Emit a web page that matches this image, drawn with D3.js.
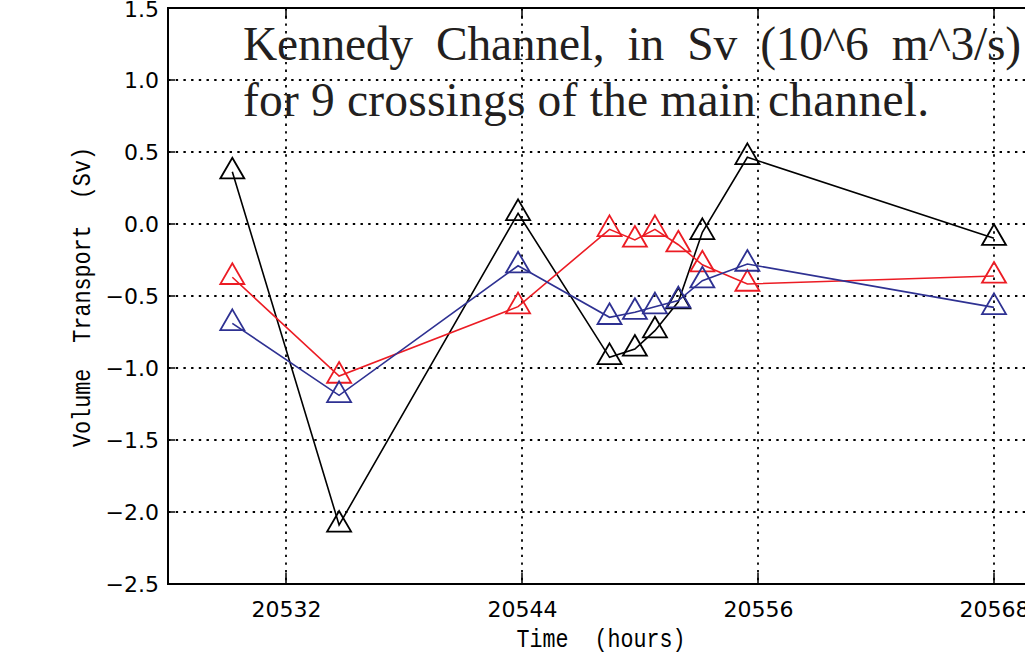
<!DOCTYPE html>
<html>
<head>
<meta charset="utf-8">
<script src="https://cdn.jsdelivr.net/npm/d3@7"></script>
<style>
  html, body { margin: 0; padding: 0; background: #fff; overflow: hidden; }
  svg { display: block; }
</style>
</head>
<body>
<svg id="chart" width="1025" height="660"></svg>
<script>
// ---- data ----
const times = [20529.27, 20534.7, 20543.8, 20548.45, 20549.74, 20550.76, 20551.95, 20553.17, 20555.46, 20568.0];
const blackSeries = [0.363, -2.09, 0.074, -0.926, -0.868, -0.741, -0.54, -0.058, 0.463, -0.099];
const redSeries   = [-0.37, -1.056, -0.574, -0.037, -0.111, -0.037, -0.144, -0.283, -0.417, -0.361];
const blueSeries  = [-0.69, -1.19, -0.29, -0.648, -0.613, -0.574, -0.532, -0.394, -0.278, -0.579];
const xTicks = [20532, 20544, 20556, 20568];
const yTicks = [-2.5, -2.0, -1.5, -1.0, -0.5, 0.0, 0.5, 1.0, 1.5];
const xDomain = [20526, 20574];
const yDomain = [-2.5, 1.5];
const titleLines = ["Kennedy  Channel,  in  Sv  (10^6  m^3/s)", "for 9 crossings of the main channel."];
const xLabel = "Time  (hours)";
const yLabel = "Volume  Transport  (Sv)";

const seriesList = [
  { values: blackSeries, color: "#000000" },
  { values: redSeries,   color: "#ec1c24" },
  { values: blueSeries,  color: "#2e3192" }
];

(function () {
// ---- layout ----
const pL = 168, pT = 8, pB = 584, pR = 1112;
const svg = d3.select("#chart");
const x = d3.scaleLinear().domain(xDomain).range([pL, pR]);
const y = d3.scaleLinear().domain(yDomain).range([pB, pT]);

// grid (dotted)
const grid = svg.append("g");
grid.selectAll("line.hg").data(yTicks.filter(v => v > yDomain[0] && v < yDomain[1])).join("line")
  .attr("x1", pL).attr("x2", pR)
  .attr("y1", d => y(d)).attr("y2", d => y(d))
  .attr("stroke", "#000").attr("stroke-width", 1.8).attr("stroke-dasharray", "2.4,5.3");
grid.selectAll("line.vg").data(xTicks).join("line")
  .attr("x1", d => x(d)).attr("x2", d => x(d))
  .attr("y1", pT).attr("y2", pB)
  .attr("stroke", "#000").attr("stroke-width", 1.8).attr("stroke-dasharray", "2.4,5.3");

// axes
const fontTick = "'DejaVu Sans', sans-serif";
const yAxis = d3.axisLeft(y).tickValues(yTicks).tickSize(0).tickPadding(9)
  .tickFormat(d => d3.format(".1f")(d).replace("-", "\u2212"));
const gy = svg.append("g").attr("transform", `translate(${pL},0)`).call(yAxis);
gy.select(".domain").remove();
gy.selectAll("text").attr("font-family", fontTick).attr("font-size", 22).attr("fill", "#000");
gy.selectAll(".tick").filter(d => d === 1.5).select("text").attr("dy", "0.40em");

const xAxis = d3.axisBottom(x).tickValues(xTicks).tickSize(0).tickPadding(17)
  .tickFormat(d3.format("d"));
const gx = svg.append("g").attr("transform", `translate(0,${pB})`).call(xAxis);
gx.select(".domain").remove();
gx.selectAll("text").attr("font-family", fontTick).attr("font-size", 22).attr("fill", "#000");

// inward tick marks
svg.append("g").selectAll("line").data(xTicks).join("line")
  .attr("x1", d => x(d)).attr("x2", d => x(d))
  .attr("y1", pB).attr("y2", pB - 11)
  .attr("stroke", "#000").attr("stroke-width", 1.5);
svg.append("g").selectAll("line").data(xTicks).join("line")
  .attr("x1", d => x(d)).attr("x2", d => x(d))
  .attr("y1", pT).attr("y2", pT + 11)
  .attr("stroke", "#000").attr("stroke-width", 1.5);
svg.append("g").selectAll("line").data(yTicks).join("line")
  .attr("x1", pL).attr("x2", pL + 7)
  .attr("y1", d => y(d)).attr("y2", d => y(d))
  .attr("stroke", "#000").attr("stroke-width", 1.5);

// frame
svg.append("rect").attr("x", pL).attr("y", pT)
  .attr("width", pR - pL).attr("height", pB - pT)
  .attr("fill", "none").attr("stroke", "#000").attr("stroke-width", 2);

// axis titles
svg.append("text").attr("x", 601).attr("y", 647)
  .attr("text-anchor", "middle").attr("font-family", "'Liberation Mono', monospace")
  .attr("font-size", 25).attr("textLength", 169).attr("lengthAdjust", "spacingAndGlyphs")
  .style("white-space", "pre").text(xLabel);
svg.append("text").attr("transform", `translate(90,${(147 + 447) / 2}) rotate(-90)`)
  .attr("text-anchor", "middle").attr("font-family", "'Liberation Mono', monospace")
  .attr("font-size", 25).attr("textLength", 300).attr("lengthAdjust", "spacingAndGlyphs")
  .style("white-space", "pre").text(yLabel);

// series
const line = d3.line().x((d, i) => x(times[i])).y(d => y(d));
const tri = (cx, cy) => `M${cx},${cy - 14}L${cx + 12},${cy + 6.7}L${cx - 12},${cy + 6.7}Z`;
seriesList.forEach(s => {
  const g = svg.append("g");
  g.append("path").datum(s.values).attr("d", line)
    .attr("fill", "none").attr("stroke", s.color).attr("stroke-width", 1.6);
  g.selectAll("path.sym").data(s.values).join("path").attr("class", "sym")
    .attr("d", (d, i) => tri(x(times[i]), y(d)))
    .attr("fill", "none").attr("stroke", s.color).attr("stroke-width", 1.8)
    .attr("stroke-linejoin", "miter");
});

// title
const titleLen = [778, 686];
const tt = svg.append("text").attr("font-family", "'Liberation Serif', serif")
  .attr("font-size", 47.5).attr("fill", "#231f20").style("white-space", "pre");
titleLines.forEach((t, i) => {
  tt.append("tspan").attr("x", 243).attr("y", 60 + i * 56)
    .attr("textLength", titleLen[i]).attr("lengthAdjust", "spacing").text(t);
});
})();
</script>
</body>
</html>
